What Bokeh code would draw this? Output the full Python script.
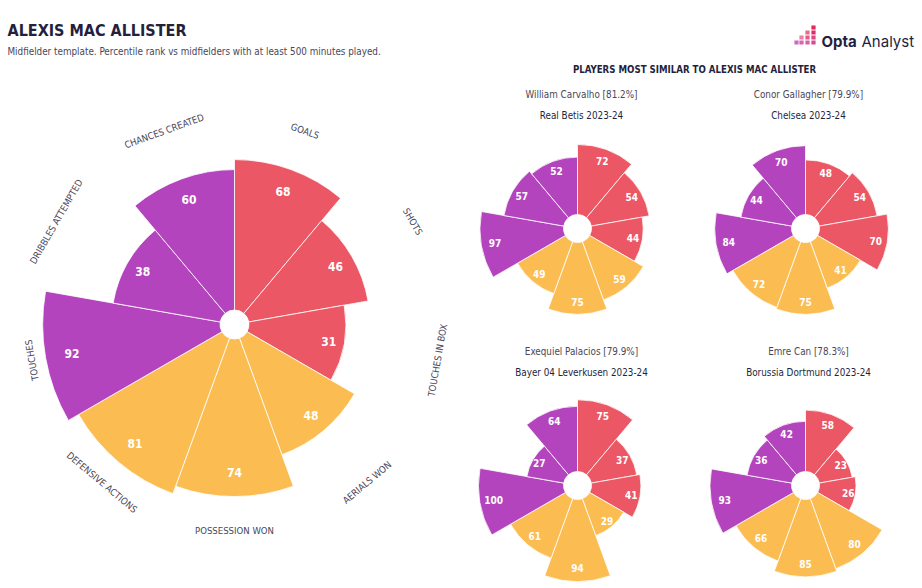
import math
from bokeh.plotting import figure
from bokeh.models import Range1d, ColumnDataSource
from bokeh.core.properties import value
from bokeh.embed import file_html
from bokeh.resources import INLINE

# ---------------- data ----------------
params = ["GOALS", "SHOTS", "TOUCHES IN BOX", "AERIALS WON", "POSSESSION WON",
          "DEFENSIVE ACTIONS", "TOUCHES", "DRIBBLES ATTEMPTED", "CHANCES CREATED"]
mac_allister = [68, 46, 31, 48, 74, 81, 92, 38, 60]

similar_names = ["William Carvalho [81.2%]", "Conor Gallagher [79.9%]",
                 "Exequiel Palacios [79.9%]", "Emre Can [78.3%]"]
similar_teams = ["Real Betis 2023-24", "Chelsea 2023-24",
                 "Bayer 04 Leverkusen 2023-24", "Borussia Dortmund 2023-24"]
carvalho = [72, 54, 44, 59, 75, 49, 97, 57, 52]
gallagher = [48, 54, 70, 41, 75, 72, 84, 44, 70]
palacios = [75, 37, 41, 29, 94, 61, 100, 27, 64]
emre_can = [58, 23, 26, 80, 85, 66, 93, 36, 42]
similar_values = [carvalho, gallagher, palacios, emre_can]

# ---------------- style ----------------
RED, ORANGE, PURPLE = "#EB5764", "#FBBC52", "#B444BE"
slice_colors = [RED] * 3 + [ORANGE] * 3 + [PURPLE] * 3
DARK = "#241f3d"
GREY = "#4a4658"
NARROW = "'DejaVu Sans Condensed', 'Roboto Condensed', Roboto, sans-serif"

W, H = 920, 586


def X(sx):
    return sx


def Y(sy):
    return H - sy


p = figure(width=W, height=H, x_range=Range1d(0, W), y_range=Range1d(0, H),
           output_backend="svg", toolbar_location=None, min_border=0)
p.axis.visible = False
p.grid.visible = False
p.outline_line_color = None
p.background_fill_color = "white"


def pizza(cx, cy, vals, R, hole, fs, labels=False):
    n = len(vals)
    step = 360.0 / n
    starts, ends, outers, lx, ly, txt = [], [], [], [], [], []
    for i, v in enumerate(vals):
        a1 = 90 - step * i
        a0 = a1 - step
        mid = math.radians((a0 + a1) / 2)
        r = R * math.sqrt(v / 100.0)
        starts.append(math.radians(a0))
        ends.append(math.radians(a1))
        outers.append(r)
        rl = r * 0.86
        lx.append(cx + rl * math.cos(mid))
        ly.append(cy + rl * math.sin(mid))
        txt.append(str(v))
    src = ColumnDataSource(dict(x=[cx] * n, y=[cy] * n, s=starts, e=ends, o=outers,
                                c=slice_colors))
    p.annular_wedge(x="x", y="y", inner_radius=hole, outer_radius="o",
                    start_angle="s", end_angle="e", fill_color="c",
                    line_color="white", line_width=0.8, source=src)
    p.text(x=lx, y=ly, text=txt, text_color="white", text_font=value(NARROW),
           text_font_style="bold", text_font_size=f"{fs}px",
           text_align="center", text_baseline="middle")
    if labels:
        px, py, pa = [], [], []
        for i in range(n):
            mid = 90 - step * i - step / 2
            m = (mid + 180) % 360 - 180
            rot = m + 90 if -165 < m < 0 else m - 90
            rl = 206
            px.append(cx + rl * math.cos(math.radians(mid)))
            py.append(cy + rl * math.sin(math.radians(mid)))
            pa.append(math.radians(rot))
        p.text(x=px, y=py, text=params, angle=pa, text_color=GREY,
               text_font=value(NARROW), text_font_size="9.5px",
               text_align="center", text_baseline="middle")


# main pizza
pizza(X(234), Y(324), mac_allister, 200, 14.5, 12, labels=True)

# small pizzas
centers = [(577, 228), (805, 228), (577, 485), (805, 485)]
for (sx, sy), vals in zip(centers, similar_values):
    pizza(X(sx), Y(sy), vals, 99, 14, 10)

# titles
p.text(x=[X(7)], y=[Y(30)], text=["ALEXIS MAC ALLISTER"], text_color=DARK,
       text_font=value(NARROW), text_font_style="bold", text_font_size="16px",
       text_align="left", text_baseline="alphabetic")
p.text(x=[X(7)], y=[Y(51)], text=["Midfielder template. Percentile rank vs midfielders with at least 500 minutes played."],
       text_color=GREY, text_font=value(NARROW), text_font_size="9.8px",
       text_align="left", text_baseline="alphabetic")
p.text(x=[X(694)], y=[Y(69)], text=["PLAYERS MOST SIMILAR TO ALEXIS MAC ALLISTER"],
       text_color=DARK, text_font=value(NARROW), text_font_style="bold",
       text_font_size="9.6px", text_align="center", text_baseline="middle")

name_pos = [(581, 94), (808, 94), (581, 351), (808, 351)]
for (sx, sy), nm, tm in zip(name_pos, similar_names, similar_teams):
    p.text(x=[X(sx)], y=[Y(sy)], text=[nm], text_color=GREY, text_font=value(NARROW),
           text_font_size="9.8px", text_align="center", text_baseline="middle")
    p.text(x=[X(sx)], y=[Y(sy + 21)], text=[tm], text_color=DARK, text_font=value(NARROW),
           text_font_size="9.8px", text_align="center", text_baseline="middle")

# logo
sq_x = [813, 813, 813, 813, 807, 807, 807, 801, 801, 796]
sq_y = [27, 32, 37, 42, 32, 37, 42, 37, 42, 42]
sq_c = ["#e6265a", "#e02b66", "#d83274", "#cf3a86", "#e6265a", "#d93277", "#cc3c8c",
        "#e02b66", "#d0399a", "#c940b0"]
sq_a = [1, 1, 0.9, 0.9, 0.7, 0.8, 0.8, 0.6, 0.8, 0.8]
p.rect(x=[X(v) for v in sq_x], y=[Y(v) for v in sq_y], width=4.2, height=4.2,
       fill_color=sq_c, fill_alpha=sq_a, line_color=None)
p.text(x=[X(821)], y=[Y(41)], text=["Opta"], text_color=DARK, text_font=value("Inter"),
       text_font_style="bold", text_font_size="15px", text_align="left",
       text_baseline="alphabetic")
p.text(x=[X(861)], y=[Y(41)], text=["Analyst"], text_color=DARK, text_font=value("Inter"),
       text_font_size="15px", text_align="left", text_baseline="alphabetic")

open("out.html", "w").write(file_html(p, INLINE))
